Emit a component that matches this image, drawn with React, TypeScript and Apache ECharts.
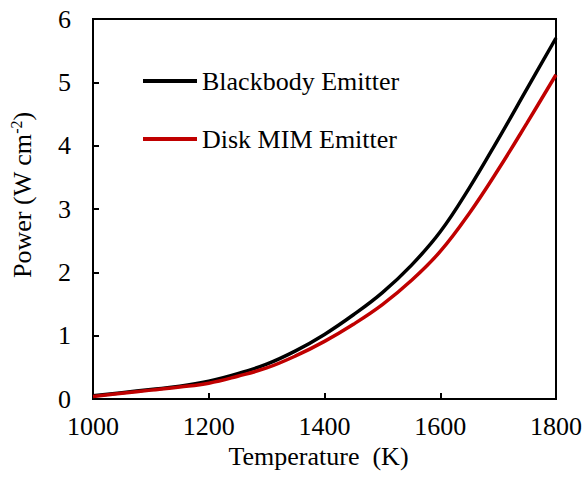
import React, { useEffect, useRef } from "react";
import * as echarts from "echarts";

const temperatures = [1000, 1050, 1100, 1150, 1200, 1250, 1300, 1350, 1400, 1450, 1500, 1550, 1600, 1650, 1700, 1750, 1800];
const blackbody = [0.05, 0.1, 0.15, 0.2, 0.28, 0.4, 0.55, 0.76, 1.02, 1.33, 1.68, 2.11, 2.64, 3.33, 4.1, 4.9, 5.7];
const diskMIM = [0.04, 0.09, 0.14, 0.19, 0.25, 0.36, 0.49, 0.68, 0.91, 1.18, 1.49, 1.87, 2.33, 2.93, 3.62, 4.36, 5.12];
const seriesNames = ["Blackbody Emitter", "Disk MIM Emitter"];
const xTicks = { min: 1000, max: 1800, interval: 200 };
const yTicks = { min: 0, max: 6, interval: 1 };

const FONT = "Liberation Serif";
const FS = 26;

export default function App() {
  const ref = useRef<HTMLDivElement>(null);
  useEffect(() => {
    document.body.style.margin = "0";
    if (!ref.current) return;
    const chart = echarts.init(ref.current, null, { renderer: "svg" });
    const toPairs = (vals: number[]) => temperatures.map((t, i) => [t, vals[i]]);
    chart.setOption({
      animation: false,
      backgroundColor: "#fff",
      textStyle: { fontFamily: FONT, color: "#000" },
      grid: {
        left: 86,
        right: 30,
        top: 19,
        bottom: 78,
        show: true,
        borderColor: "#000",
        borderWidth: 2,
        containLabel: false,
      },
      legend: {
        orient: "vertical",
        left: 138,
        top: 63,
        itemWidth: 54,
        itemHeight: 4,
        itemGap: 32,
        icon: "rect",
        textStyle: { fontFamily: FONT, fontSize: FS, color: "#000" },
        data: seriesNames,
      },
      xAxis: {
        type: "value",
        min: xTicks.min,
        max: xTicks.max,
        interval: xTicks.interval,
        name: "Temperature  (K)",
        nameLocation: "middle",
        nameGap: 44,
        nameTextStyle: { fontFamily: FONT, fontSize: FS, color: "#000", padding: [0, 12, 0, 0] },
        axisLine: { show: true, lineStyle: { color: "#000", width: 2 } },
        axisTick: { show: true, inside: true, length: 6, lineStyle: { color: "#000", width: 2 } },
        axisLabel: { fontFamily: FONT, fontSize: FS, color: "#000", margin: 14, formatter: (v: number) => String(v) },
        splitLine: { show: false },
      },
      yAxis: {
        type: "value",
        min: yTicks.min,
        max: yTicks.max,
        interval: yTicks.interval,
        name: "Power (W cm{sup|-2})",
        nameLocation: "middle",
        nameGap: 57,
        nameRotate: 90,
        nameTextStyle: {
          fontFamily: FONT,
          fontSize: FS,
          color: "#000",
          padding: [0, 0, 0, 28],
          rich: {
            sup: { fontFamily: FONT, fontSize: 16, color: "#000", verticalAlign: "top", padding: [0, 0, 12, 0] },
          },
        },
        axisLine: { show: true, lineStyle: { color: "#000", width: 2 } },
        axisTick: { show: true, inside: true, length: 6, lineStyle: { color: "#000", width: 2 } },
        axisLabel: { fontFamily: FONT, fontSize: FS, color: "#000", margin: 22, formatter: (v: number) => String(v) },
        splitLine: { show: false },
      },
      series: [
        {
          name: seriesNames[0],
          type: "line",
          data: toPairs(blackbody),
          smooth: 0.4,
          symbol: "none",
          lineStyle: { color: "#000000", width: 3.5 },
          itemStyle: { color: "#000000" },
        },
        {
          name: seriesNames[1],
          type: "line",
          data: toPairs(diskMIM),
          smooth: 0.4,
          symbol: "none",
          lineStyle: { color: "#C00000", width: 3.5 },
          itemStyle: { color: "#C00000" },
        },
      ],
    });
    return () => chart.dispose();
  }, []);
  return <div ref={ref} style={{ width: 586, height: 477 }} />;
}
